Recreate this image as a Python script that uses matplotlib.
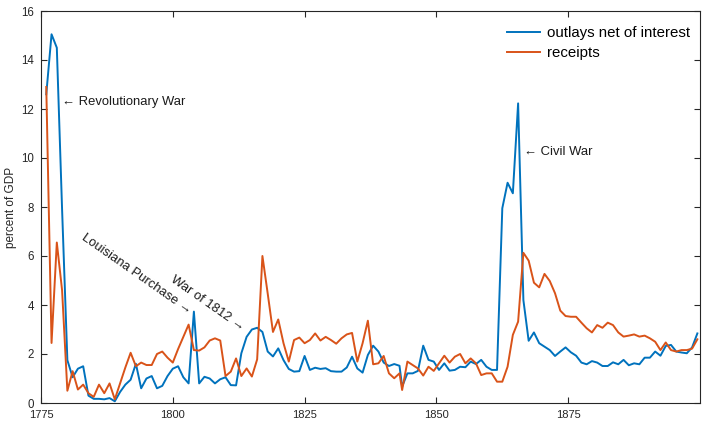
import numpy as np
import matplotlib
matplotlib.use("Agg")
import matplotlib.pyplot as plt

plt.rcParams['font.family'] = ['Liberation Sans', 'DejaVu Sans']

# fiscal years: calendar years up to 1843, half-year 1843, then mid-year points
years = list(range(1776, 1844)) + [1843.5] + [y + 0.5 for y in range(1844, 1900)]

outlays = [12.6, 15.05, 14.5, 7.9, 1.75, 1.05, 1.4, 1.5, 0.3, 0.17,
           0.17, 0.15, 0.2, 0.07, 0.45, 0.75, 0.95, 1.6, 0.6, 1.0,
           1.1, 0.6, 0.7, 1.1, 1.4, 1.5, 1.05, 0.8, 3.73, 0.8,
           1.07, 1.0, 0.8, 0.97, 1.05, 0.73, 0.72, 2.03, 2.7, 3.0,
           3.07, 2.9, 2.1, 1.9, 2.23, 1.75, 1.39, 1.28, 1.3, 1.92,
           1.35, 1.44, 1.39, 1.42, 1.3, 1.28, 1.28, 1.45, 1.89, 1.41,
           1.24, 1.96, 2.34, 2.1, 1.65, 1.51, 1.59, 1.52,
           0.67,
           1.21, 1.21, 1.31, 2.34, 1.76, 1.69, 1.35, 1.62, 1.32, 1.35,
           1.48, 1.46, 1.69, 1.59, 1.76, 1.48, 1.35, 1.35, 7.95, 8.99,
           8.56, 12.23, 4.2, 2.54, 2.88, 2.44, 2.3, 2.16, 1.92, 2.1,
           2.27, 2.07, 1.93, 1.65, 1.58, 1.71, 1.65, 1.51, 1.51, 1.66,
           1.58, 1.76, 1.54, 1.62, 1.58, 1.85, 1.85, 2.1, 1.93, 2.33,
           2.37, 2.1, 2.06, 2.03, 2.27, 2.84]

receipts = [12.9, 2.45, 6.55, 4.6, 0.5, 1.3, 0.55, 0.75, 0.4, 0.25,
            0.75, 0.4, 0.8, 0.15, 0.8, 1.45, 2.05, 1.5, 1.65, 1.55,
            1.55, 2.0, 2.1, 1.85, 1.65, 2.2, 2.7, 3.2, 2.16, 2.14,
            2.27, 2.55, 2.64, 2.55, 1.1, 1.28, 1.82, 1.1, 1.41, 1.08,
            1.78, 6.0, 4.47, 2.9, 3.41, 2.44, 1.69, 2.57, 2.67, 2.44,
            2.57, 2.84, 2.55, 2.7, 2.57, 2.42, 2.64, 2.8, 2.86, 1.69,
            2.44, 3.36, 1.58, 1.62, 1.92, 1.21, 1.01, 1.21,
            0.53,
            1.69, 1.55, 1.41, 1.12, 1.48, 1.31, 1.62, 1.93, 1.65, 1.89,
            2.0, 1.62, 1.82, 1.62, 1.14, 1.21, 1.21, 0.87, 0.87, 1.48,
            2.78, 3.32, 6.13, 5.81, 4.91, 4.72, 5.27, 4.98, 4.48, 3.77,
            3.55, 3.52, 3.52, 3.28, 3.05, 2.88, 3.18, 3.07, 3.28, 3.18,
            2.88, 2.71, 2.75, 2.8, 2.71, 2.75, 2.64, 2.5, 2.16, 2.47,
            2.16, 2.1, 2.16, 2.16, 2.22, 2.6]

blue = '#0072BD'
orange = '#D95319'
grey = '#262626'

fig = plt.figure(figsize=(7.02, 4.21), dpi=100)
ax = fig.add_axes([41/702, 18/421, 659/702, 392/421])

ax.plot(years, outlays, color=blue, lw=1.4, label='outlays net of interest')
ax.plot(years, receipts, color=orange, lw=1.4, label='receipts')

ax.set_xlim(1775, 1900)
ax.set_ylim(0, 16)
ax.set_xticks([1775, 1800, 1825, 1850, 1875])
ax.set_yticks(range(0, 17, 2))
ax.tick_params(direction='in', top=True, right=True, length=4, width=0.8,
               colors=grey, labelsize=8.3)
ax.tick_params(axis='x', pad=4.8, labelsize=8.0)
ax.tick_params(axis='y', pad=5)
for s in ax.spines.values():
    s.set_color(grey)
    s.set_linewidth(0.8)
ax.set_ylabel('percent of GDP', fontsize=8.5, color=grey, labelpad=3)

# annotations
ax.text(1779.0, 12.29, '\u2190 Revolutionary War', fontsize=9.4, color='#1a1a1a',
        ha='left', va='center')
ax.text(1866.7, 10.26, '\u2190 Civil War', fontsize=9.4, color='#1a1a1a',
        ha='left', va='center')
ax.text(1803.2, 3.72, 'Louisiana Purchase \u2192', fontsize=9.4, color='#1a1a1a',
        ha='right', va='center', rotation=-35, rotation_mode='anchor')
ax.text(1813.4, 3.06, 'War of 1812 \u2192', fontsize=9.4, color='#1a1a1a',
        ha='right', va='center', rotation=-35, rotation_mode='anchor')

ax.legend(loc='upper right', bbox_to_anchor=(1.008, 1.0), frameon=False,
          fontsize=10.8, handlelength=2.2, handletextpad=0.45,
          labelspacing=0.4, borderaxespad=0.6)

fig.savefig('out.png', dpi=100)
